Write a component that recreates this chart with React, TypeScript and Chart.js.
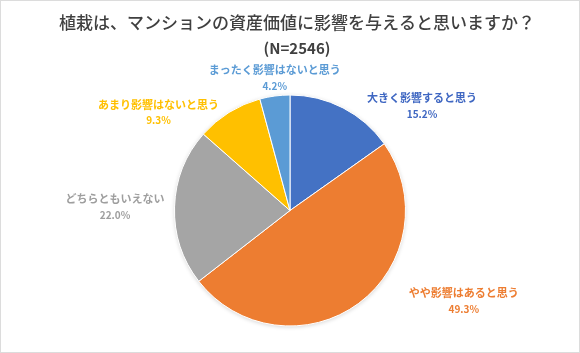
import React, { useEffect, useRef } from "react";
import { Chart, registerables } from "chart.js";

Chart.register(...registerables);

const titleLines = ["植栽は、マンションの資産価値に影響を与えると思いますか？", "(N=2546)"];
const categories = ["大きく影響すると思う", "やや影響はあると思う", "どちらともいえない", "あまり影響はないと思う", "まったく影響はないと思う"];
const values = [15.2, 49.3, 22.0, 9.3, 4.2];
const colors = ["#4472C4", "#ED7D31", "#A5A5A5", "#FFC000", "#5B9BD5"];
const labelColors = ["#3F67C2", "#ED7D31", "#9E9E9E", "#FFC000", "#5B9BD5"];
const labelGaps = [24, 50, 10, 10, 2];

const FONT = '"Noto Sans CJK JP", "Noto Sans", sans-serif';

const labelPlugin = {
  id: "outLabels",
  beforeDatasetsDraw(chart: any) {
    const ctx = chart.ctx;
    ctx.save();
    ctx.shadowColor = "rgba(0,0,0,0.18)";
    ctx.shadowBlur = 4;
    ctx.shadowOffsetX = 0;
    ctx.shadowOffsetY = 1;
    const meta = chart.getDatasetMeta(0);
    const a = meta.data[0];
    ctx.beginPath();
    ctx.arc(a.x, a.y, a.outerRadius, 0, Math.PI * 2);
    ctx.fillStyle = "#ffffff";
    ctx.fill();
    ctx.restore();
  },
  afterDraw(chart: any) {
    const ctx = chart.ctx;
    ctx.save();
    // title
    ctx.fillStyle = "#404040";
    ctx.textAlign = "center";
    ctx.textBaseline = "middle";
    ctx.font = `500 17px ${FONT}`;
    ctx.fillText(titleLines[0], chart.width / 2 + 7, 22);
    ctx.font = `bold 15px ${FONT}`;
    ctx.fillText(titleLines[1], chart.width / 2 + 7, 47);

    const meta = chart.getDatasetMeta(0);
    meta.data.forEach((arc: any, i: number) => {
      const mid = (arc.startAngle + arc.endAngle) / 2;
      const ex = arc.x + Math.cos(mid) * arc.outerRadius;
      const ey = arc.y + Math.sin(mid) * arc.outerRadius;
      const g = labelGaps[i];
      const c = Math.cos(mid);
      ctx.fillStyle = labelColors[i];
      const line1 = categories[i];
      const line2 = values[i].toFixed(1) + "%";
      ctx.textBaseline = "middle";
      ctx.font = `bold 11px ${FONT}`;
      const w1 = ctx.measureText(line1).width;
      ctx.font = `bold 10px ${FONT}`;
      const w2 = ctx.measureText(line2).width;
      const w = Math.max(w1, w2);
      let cxl: number;
      let cyl: number;
      if (c > 0.3) {
        cxl = ex + g + w / 2;
        cyl = ey - 2;
      } else if (c < -0.3) {
        cxl = ex - g - w / 2;
        cyl = ey;
      } else {
        cxl = ex;
        cyl = ey - g - 16;
      }
      ctx.textAlign = "center";
      ctx.font = `bold 11px ${FONT}`;
      ctx.fillText(line1, cxl, cyl - 8);
      ctx.font = `bold 10px ${FONT}`;
      ctx.fillText(line2, cxl, cyl + 8);
    });
    ctx.restore();
  },
};

export default function App() {
  const ref = useRef<HTMLCanvasElement>(null);
  useEffect(() => {
    if (!ref.current) return;
    const chart = new Chart(ref.current, {
      type: "pie",
      data: {
        labels: categories,
        datasets: [
          {
            data: values,
            backgroundColor: colors,
            borderColor: "#ffffff",
            borderWidth: 1,
          },
        ],
      },
      options: {
        responsive: false,
        animation: false,
        layout: { padding: { top: 93, bottom: 25, left: 173, right: 173 } },
        plugins: {
          legend: { display: false },
          tooltip: { enabled: false },
          title: { display: false },
        },
      },
      plugins: [labelPlugin],
    });
    return () => chart.destroy();
  }, []);
  return (
    <div
      style={{
        position: "fixed",
        left: 0,
        top: 0,
        width: 580,
        height: 353,
        background: "#ffffff",
        boxSizing: "border-box",
        border: "1px solid #dcdcdc",
        overflow: "hidden",
      }}
    >
      <canvas ref={ref} width={578} height={351} style={{ display: "block", width: 578, height: 351 }} />
    </div>
  );
}
